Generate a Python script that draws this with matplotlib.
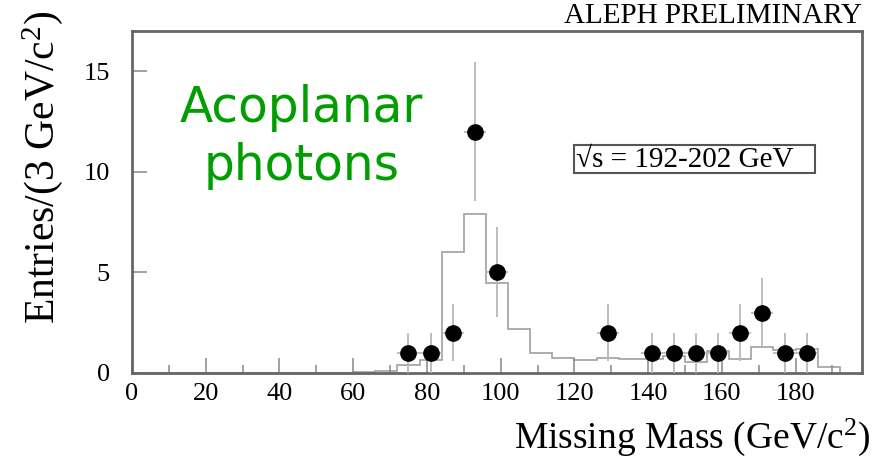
import numpy as np
import matplotlib
matplotlib.use('Agg')
import matplotlib.pyplot as plt
from matplotlib.patches import Rectangle

# data points (6 GeV bins, empty bins not drawn)
mass = [75, 81, 87, 93, 99, 129, 141, 147, 153, 159, 165, 171, 177, 183]
entries = [1, 1, 2, 12, 5, 2, 1, 1, 1, 1, 2, 3, 1, 1]

# expected (MC) histogram
mc_edges = list(range(0, 193, 6))
mc_values = [0, 0, 0, 0, 0, 0, 0, 0, 0, 0,
             0.05, 0.12, 0.4, 0.65, 6.0, 7.9, 4.45, 2.2, 1.0, 0.76,
             0.65, 0.73, 0.68, 0.7, 0.85, 0.56, 1.1, 0.68, 1.3, 1.15,
             1.2, 0.3]

xticks = [0, 20, 40, 60, 80, 100, 120, 140, 160, 180]
yticks = [0, 5, 10, 15]

serif = ['Liberation Serif', 'DejaVu Serif']
plt.rcParams['mathtext.fontset'] = 'custom'
plt.rcParams['mathtext.rm'] = 'Liberation Serif'
plt.rcParams['mathtext.it'] = 'Liberation Serif:italic'
plt.rcParams['mathtext.default'] = 'rm'

fig = plt.figure(figsize=(8.81, 4.68), dpi=100)
ax = fig.add_axes([0.1498, 0.203, 0.8286, 0.731])

ax.stairs(mc_values, mc_edges, color='#a0a0a0', lw=1.2)
err = np.sqrt(entries)
ax.errorbar(mass, entries, yerr=err, xerr=3, fmt='o', color='black', ms=11,
            ecolor='#b8b8b8', elinewidth=1.3, capsize=0, zorder=3)

ax.set_xlim(0, 198)
ax.set_ylim(0, 17)
ax.set_xticks(xticks)
ax.set_xticks(range(10, 200, 10), minor=True)
ax.set_yticks(yticks)
ax.tick_params(axis='both', which='both', direction='in', color='#888888', width=1.1)
ax.tick_params(axis='x', which='major', length=11, pad=7)
ax.tick_params(axis='x', which='minor', length=5.5)
ax.tick_params(axis='y', which='major', length=11, pad=16)
for lab in ax.get_xticklabels() + ax.get_yticklabels():
    lab.set_family(serif)
    lab.set_fontsize(19)
for s in ax.spines.values():
    s.set_color('#666666')
    s.set_linewidth(2)

fig.text(0.0477, 1 - 167 / 468, 'Entries/(3 GeV/c$^2$)', rotation=90,
         ha='center', va='center', fontsize=30, family=serif)
fig.text(870 / 881, 1 - 437 / 468, 'Missing Mass (GeV/c$^2$)', ha='right',
         va='center', fontsize=27, family=serif)
fig.text(862 / 881, 1 - 16 / 468, 'ALEPH PRELIMINARY', ha='right',
         va='center', fontsize=21, family=serif)

ax.text(0.232, 0.69, 'Acoplanar\nphotons', transform=ax.transAxes,
        ha='center', va='center', multialignment='center', fontsize=35,
        color='#009e00', family='DejaVu Sans', linespacing=1.25)

ax.add_patch(Rectangle((0.605, 0.585), 0.331, 0.082, transform=ax.transAxes,
                       fill=False, edgecolor='#555555', lw=1.5))
ax.text(0.608, 0.624, '\u221as = 192-202 GeV', transform=ax.transAxes,
        ha='left', va='center', fontsize=21, family=serif)

fig.savefig('out.png', dpi=100)
